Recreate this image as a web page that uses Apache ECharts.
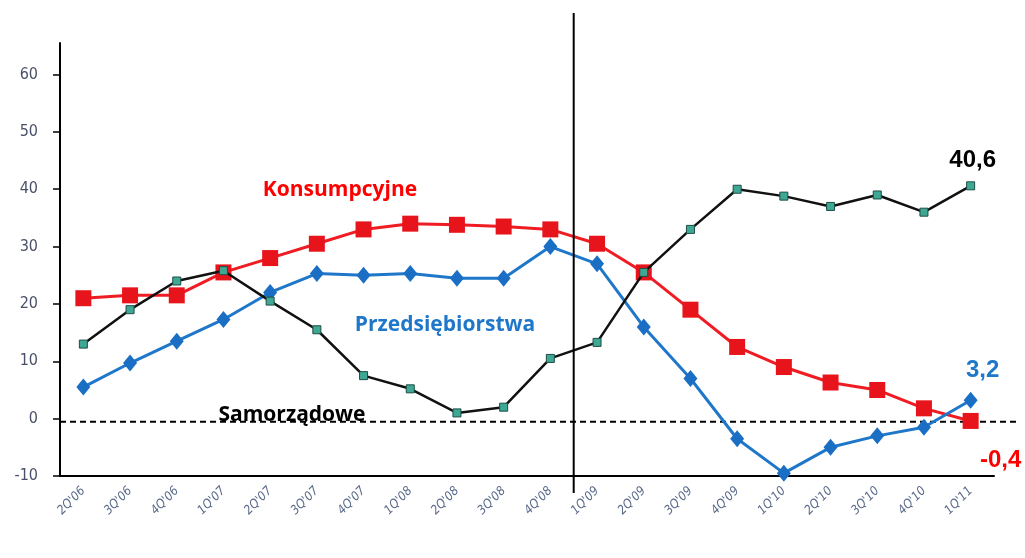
<!DOCTYPE html>
<html>
<head>
<meta charset="utf-8">
<script src="https://cdn.jsdelivr.net/npm/echarts@6/dist/echarts.min.js"></script>
<style>
  html, body { margin: 0; padding: 0; background: #fff; }
  #chart { width: 1025px; height: 558px; }
</style>
</head>
<body>
<div id="chart"></div>
<script>
const quarters = [
  "2Q'06", "3Q'06", "4Q'06", "1Q'07", "2Q'07", "3Q'07", "4Q'07", "1Q'08", "2Q'08", "3Q'08",
  "4Q'08", "1Q'09", "2Q'09", "3Q'09", "4Q'09", "1Q'10", "2Q'10", "3Q'10", "4Q'10", "1Q'11"
];
const konsumpcyjne = [21, 21.5, 21.5, 25.5, 28, 30.5, 33, 34, 33.8, 33.5, 33, 30.5, 25.5, 19, 12.5, 9, 6.3, 5, 1.8, -0.4];
const przedsiebiorstwa = [5.5, 9.7, 13.5, 17.3, 22, 25.3, 25, 25.3, 24.5, 24.5, 30, 27, 16, 7, -3.5, -9.5, -5, -3, -1.5, 3.2];
const samorzadowe = [13, 19, 24, 25.8, 20.5, 15.5, 7.5, 5.2, 1, 2, 10.5, 13.3, 25.5, 33, 40, 38.8, 37, 39, 36, 40.6];
const yTicks = [-10, 0, 10, 20, 30, 40, 50, 60];
// granica kryzysu: między 4Q'08 a 1Q'09
const splitBefore = "4Q'08";
const splitAfter = "1Q'09";

const chart = echarts.init(document.getElementById("chart"));

const fmt = (v) => String(v).replace(".", ",");

function lastLabel(data, color, position, offset) {
  return data.map((v, i) =>
    i === data.length - 1
      ? {
          value: v,
          label: {
            show: true,
            position,
            offset,
            formatter: (p) => fmt(p.value),
            color,
            fontSize: 24,
            fontWeight: "bold",
            fontFamily: "Liberation Sans",
          },
        }
      : v
  );
}

chart.setOption({
  animation: false,
  grid: { left: 60, right: 31, top: 43, bottom: 82 },
  xAxis: {
    type: "category",
    data: quarters,
    boundaryGap: true,
    axisLine: { onZero: false, lineStyle: { color: "#000", width: 2 } },
    axisTick: { inside: true, length: 8, lineStyle: { color: "#000", width: 1.5 } },
    axisLabel: {
      rotate: 45,
      margin: 13,
      color: "#5a6a8a",
      fontSize: 12.5,
      fontStyle: "italic",
      fontFamily: "DejaVu Sans Condensed",
    },
  },
  yAxis: {
    type: "value",
    min: -10,
    max: 65.5,
    interval: 10,
    axisLine: { show: true, lineStyle: { color: "#000", width: 2 } },
    axisTick: { show: true, length: 7, customValues: yTicks, lineStyle: { color: "#000", width: 1.5 } },
    axisLabel: {
      customValues: yTicks,
      margin: 22,
      color: "#4a5068",
      fontSize: 16,
      fontFamily: "DejaVu Sans Condensed",
    },
    splitLine: { show: false },
  },
  series: [
    {
      name: "Konsumpcyjne",
      type: "line",
      data: lastLabel(konsumpcyjne, "#ff0000", "bottom", [30, 14]),
      symbol: "rect",
      symbolSize: 16,
      lineStyle: { color: "#f01c24", width: 3 },
      itemStyle: { color: "#e8141b" },
      z: 2,
    },
    {
      name: "Przedsiębiorstwa",
      type: "line",
      data: lastLabel(przedsiebiorstwa, "#1f77c9", "top", [12, -4]),
      symbol: "diamond",
      symbolSize: [14, 17],
      lineStyle: { color: "#1f77c9", width: 3 },
      itemStyle: { color: "#1a6fc4" },
      z: 3,
    },
    {
      name: "Samorządowe",
      type: "line",
      data: lastLabel(samorzadowe, "#000", "top", [2, -4]),
      symbol: "rect",
      symbolSize: 8,
      lineStyle: { color: "#111", width: 2.5 },
      itemStyle: { color: "#3fa894", borderColor: "#1e4d45", borderWidth: 1 },
      z: 4,
    },
  ],
});

const xSplit =
  (chart.convertToPixel({ xAxisIndex: 0 }, splitBefore) +
    chart.convertToPixel({ xAxisIndex: 0 }, splitAfter)) / 2;
const yZero = chart.convertToPixel({ yAxisIndex: 0 }, 0);
const seriesText = (text, x, y, color) => ({
  type: "text",
  x,
  y,
  style: {
    text,
    fill: color,
    font: "bold 21px 'Open Sans'",
    textAlign: "center",
    textVerticalAlign: "middle",
  },
  z: 10,
});

chart.setOption({
  graphic: [
    {
      type: "line",
      shape: { x1: xSplit, y1: 13, x2: xSplit, y2: 493 },
      style: { stroke: "#000", lineWidth: 2 },
      z: 5,
    },
    {
      type: "line",
      shape: { x1: 60, y1: yZero + 3, x2: 1018, y2: yZero + 3 },
      style: { stroke: "#000", lineWidth: 2, lineDash: [6, 4] },
      z: 1,
    },
    seriesText("Konsumpcyjne", 340, 190, "#ff0000"),
    seriesText("Przedsiębiorstwa", 445, 325, "#1f77c9"),
    seriesText("Samorządowe", 292, 415, "#000"),
  ],
});
</script>
</body>
</html>
